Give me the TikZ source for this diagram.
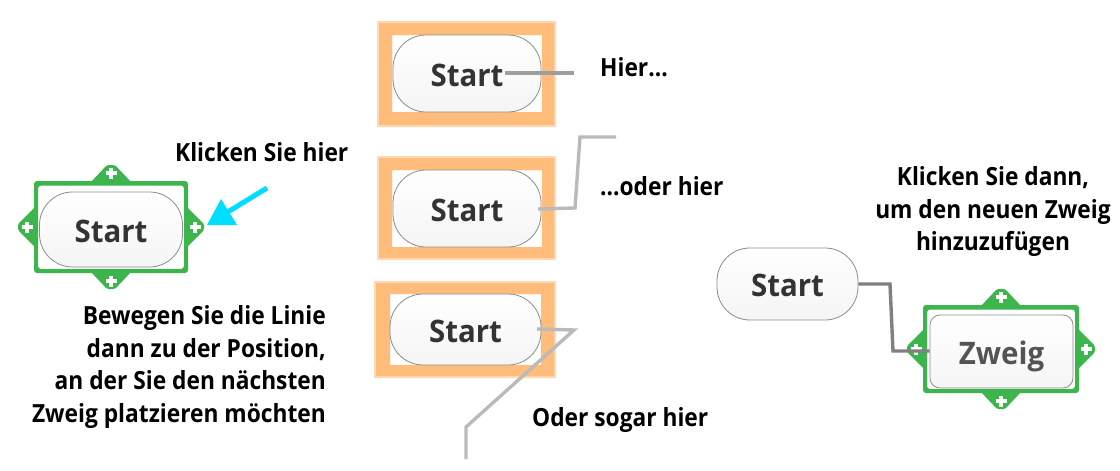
\documentclass[tikz,border=0pt]{standalone}
\usepackage{fontspec}
\setmainfont{Open Sans}
\newfontfamily\lblfont[FakeStretch=0.91]{Open Sans}
\newfontfamily\topicfont[FakeStretch=0.95]{Open Sans}
\newcommand{\lbl}{\lblfont\fontsize{25}{32.5}\selectfont\bfseries}
\newcommand{\greenframe}[6]{% x1,y1,x2,y2,cx,cy
  \fill[gr,rounded corners=1.5pt] (#5-20,#2+1)--(#5-4,#2-17+1-.0)--(#5+4,#2-17+1)--(#5+20,#2+1)--cycle;
  \fill[gr,rounded corners=1.5pt] (#5-20,#4-1)--(#5-4,#4+17-1)--(#5+4,#4+17-1)--(#5+20,#4-1)--cycle;
  \fill[gr,rounded corners=1.5pt] (#1+1,#6-20)--(#1-16,#6-3)--(#1-16,#6+3)--(#1+1,#6+20)--cycle;
  \fill[gr,rounded corners=1.5pt] (#3-1,#6-20)--(#3+16,#6-3)--(#3+16,#6+3)--(#3-1,#6+20)--cycle;
  \fill[gr,even odd rule,rounded corners=3pt] (#1,#2) rectangle (#3,#4) (#1+4,#2+4.5) rectangle (#3-4,#4-4);
  \draw[plusmark] (#5-5.5,#2-8)--(#5+5.5,#2-8) (#5,#2-13.5)--(#5,#2-2.5);
  \draw[plusmark] (#5-5.5,#4+8)--(#5+5.5,#4+8) (#5,#4+2.5)--(#5,#4+13.5);
  \draw[plusmark] (#1-12.5,#6)--(#1-1.5,#6) (#1-7,#6-5.5)--(#1-7,#6+5.5);
  \draw[plusmark] (#3+1.5,#6)--(#3+12.5,#6) (#3+7,#6-5.5)--(#3+7,#6+5.5);
}
\newcommand{\orangeframe}[8]{%
  \fill[orSoft,even odd rule] (#1,#2) rectangle (#3,#4) (#5,#6) rectangle (#7,#8);
  \fill[orMain,even odd rule] (#1+2,#2+2) rectangle (#3-2,#4-2) (#5,#6) rectangle (#7,#8);
}
\definecolor{gr}{HTML}{3CB64C}
\definecolor{orMain}{HTML}{FFBC7A}
\definecolor{orSoft}{HTML}{FFD9B3}
\definecolor{cy}{HTML}{00DDFF}
\tikzset{
  plusmark/.style={white,line width=3.2pt},
  topic/.style={draw=black!45,line width=.8pt,top color=white,bottom color=black!4,inner sep=0pt,font=\topicfont\fontsize{31}{34}\selectfont\bfseries,text=black!80,text height=25pt,text depth=0pt},
  pill/.style={topic,rounded corners=33pt},
  lab/.style={font=\lbl,text=black,inner sep=0pt,anchor=base west},
  para/.style={font=\lbl,text=black,inner sep=0pt,align=center},
  branch/.style={line width=3.4pt,line join=miter},
}
\begin{document}
\begin{tikzpicture}[x=1pt,y=-1pt]
\useasboundingbox (0,0) rectangle (1120,471);
\fill[white] (0,0) rectangle (1120,471);
% left
\greenframe{34}{181}{188}{273}{111}{227}
\node[pill,minimum width=143pt,minimum height=75pt] (a) at (111,229.5) {Start};
\coordinate (ctail) at (267,188);
\coordinate (cneck) at (226,213);
\fill[cy] (207,225)--(237,225)--(221,199)--cycle;
\draw[cy,line width=5pt] (ctail)--(cneck);
% frames
\orangeframe{377}{21}{556}{127}{392}{35}{542}{112}
\node[pill,minimum width=148pt,minimum height=77pt] (b) at (467,73.5) {Start};
\coordinate (b1) at (505,73);
\coordinate (b2) at (574,73);
\draw[branch,color=black!38] (b1)--(b2);
\orangeframe{377}{156}{556}{260}{392}{170}{542}{247}
\node[pill,minimum width=148pt,minimum height=77pt] (c) at (467,208.5) {Start};
\coordinate (c1) at (538,209);
\coordinate (c2) at (575,208);
\coordinate (c3) at (580,137);
\coordinate (c4) at (616,137);
\draw[branch,color=black!27] (c1)--(c2)--(c3)--(c4);
\orangeframe{374}{281}{556}{378}{390}{294}{541}{365}
\node[pill,minimum width=151pt,minimum height=71pt] (d) at (465.5,329.5) {Start};
\coordinate (d1) at (537,329);
\coordinate (d2) at (574,330);
\coordinate (d3) at (466,427);
\coordinate (d4) at (466,459);
\draw[branch,color=black!27] (d1)--(d2)--(d3)--(d4);
% right
\node[pill,minimum width=141pt,minimum height=72pt] (e) at (787.5,284) {Start};
\coordinate (e1) at (890,284);
\coordinate (e2) at (893,351);
\greenframe{923}{305}{1079}{393}{1001}{349}
\node[topic,rounded corners=10pt,minimum width=143pt,minimum height=73pt,text=black!67] (f) at (1001.5,351.5) {Zweig};
\draw[branch,color=black!50] (e.east|-e1)--(e1)--(e2)--(f.west|-e2);
% labels
\node[lab] (t1) at (175,161) {Klicken Sie hier};
\node[lab] (t2) at (600,76) {Hier...};
\node[lab] (t3) at (600,195) {...oder hier};
\node[lab] (t4) at (532,426) {Oder sogar hier};
\node[para] (t5) at (993,212) {Klicken Sie dann,\\um den neuen Zweig\\hinzuzufügen};
\node[para,align=right,anchor=east] (t6) at (326,367) {Bewegen Sie die Linie\\dann zu der Position,\\an der Sie den nächsten\\Zweig platzieren möchten};
\end{tikzpicture}
\end{document}
